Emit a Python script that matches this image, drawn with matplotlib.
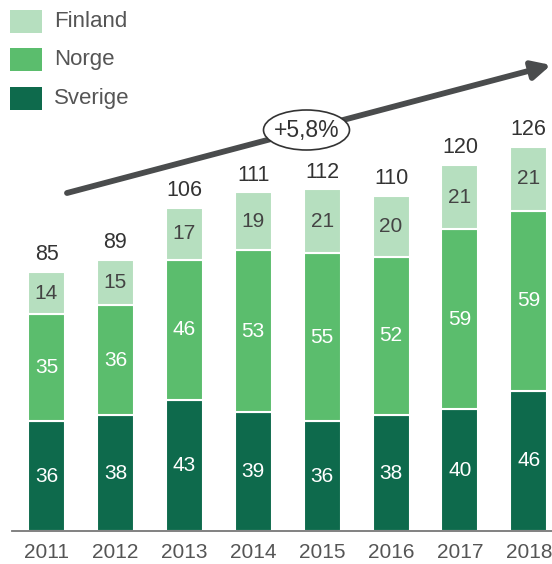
import matplotlib
matplotlib.use("Agg")
import matplotlib.pyplot as plt
from matplotlib.patches import Ellipse, Rectangle
import numpy as np

years = ["2011", "2012", "2013", "2014", "2015", "2016", "2017", "2018"]
sverige = [36, 38, 43, 39, 36, 38, 40, 46]
norge = [35, 36, 46, 53, 55, 52, 59, 59]
finland = [14, 15, 17, 19, 21, 20, 21, 21]
totals = [85, 89, 106, 111, 112, 110, 120, 126]
growth_label = "+5,8%"
series_names = ["Finland", "Norge", "Sverige"]

c_sve = "#0e6a4c"
c_nor = "#5bbd6d"
c_fin = "#b6dfbf"
txt_grey = "#444444"

plt.rcParams['font.family'] = ['Liberation Sans', 'DejaVu Sans']

W, H = 552, 564
fig = plt.figure(figsize=(W / 100, H / 100), dpi=100)
base_px = 531
scale = 3.05  # px per unit
ax = fig.add_axes([0, (H - base_px) / H, 1, base_px / H])
x0c, dx = 46.5, 68.9
ax.set_xlim(-x0c / dx, (W - x0c) / dx)
ax.set_ylim(0, base_px / scale)
ax.axis("off")

x = np.arange(len(years))
bw = 37 / dx
sv = np.array(sverige)
no = np.array(norge)
fi = np.array(finland)
kw = dict(width=bw, edgecolor="white", linewidth=1.5, zorder=2)
ax.bar(x, sv, color=c_sve, **kw)
ax.bar(x, no, bottom=sv, color=c_nor, **kw)
ax.bar(x, fi, bottom=sv + no, color=c_fin, **kw)

fs_in = 15
for i in range(len(years)):
    ax.text(x[i], sv[i] / 2, str(sverige[i]), ha="center", va="center",
            color="white", fontsize=fs_in, zorder=3)
    ax.text(x[i], sv[i] + no[i] / 2, str(norge[i]), ha="center", va="center",
            color="white", fontsize=fs_in, zorder=3)
    ax.text(x[i], sv[i] + no[i] + fi[i] / 2, str(finland[i]), ha="center", va="center",
            color=txt_grey, fontsize=fs_in, zorder=3)
    ax.text(x[i], totals[i] + 2.2, str(totals[i]), ha="center", va="bottom",
            color="#333333", fontsize=15.5, zorder=3)
    ax.text(x[i], -7.0, years[i], ha="center", va="center",
            color="#555555", fontsize=15, clip_on=False)

# baseline axis line
ax.plot([(12 - x0c) / dx, (W - x0c) / dx], [0, 0], color="#777777", lw=1.3,
        clip_on=False, zorder=4)

# growth arrow
def px2data(px, py):
    return ((px - x0c) / dx, (base_px - py) / scale)

start = px2data(67, 193)
end = px2data(551, 65)
ax.annotate("", xy=end, xytext=start,
            arrowprops=dict(arrowstyle="-|>,head_length=1.1,head_width=0.55",
                            color="#4a4c4d", lw=4.2, shrinkA=0, shrinkB=0),
            zorder=5, annotation_clip=False)
ec = px2data(306.5, 130)
ell = Ellipse(ec, width=86 / dx, height=40 / scale, facecolor="white",
              edgecolor="#333333", lw=1.2, zorder=6)
ax.add_patch(ell)
ax.text(ec[0], ec[1], growth_label, ha="center", va="center", fontsize=16.5,
        color="#333333", zorder=7)

# legend
colors = [c_fin, c_nor, c_sve]
tops = [10, 48, 87]
for name, col, t in zip(series_names, colors, tops):
    fig.patches.append(Rectangle((10 / W, 1 - (t + 23) / H), 32 / W, 23 / H,
                                 transform=fig.transFigure, facecolor=col,
                                 edgecolor="none"))
    fig.text(54 / W, 1 - (t + 11.5) / H, name, ha="left", va="center",
             fontsize=16, color="#555555")

fig.savefig("out.png", dpi=100)
